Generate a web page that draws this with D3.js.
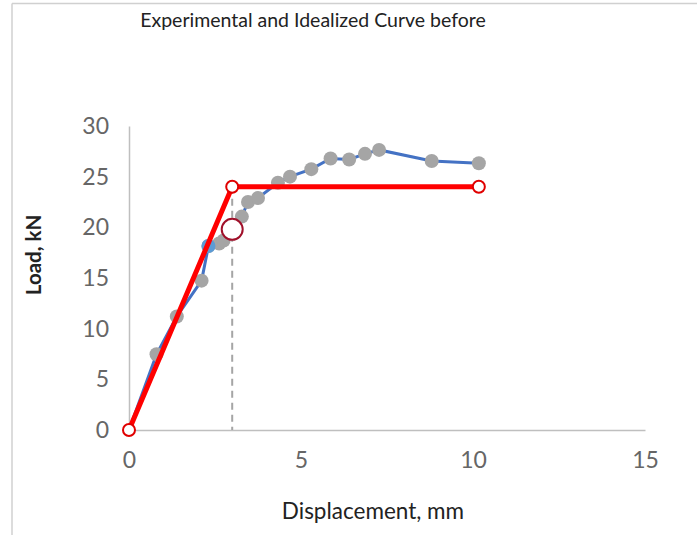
<!DOCTYPE html>
<html>
<head>
<meta charset="utf-8">
<script src="https://cdn.jsdelivr.net/npm/d3@7"></script>
<style>
  html, body { margin: 0; padding: 0; background: #fff; }
  svg { display: block; }
</style>
</head>
<body>
<svg id="chart" width="697" height="535"></svg>
<script>
// ---- data ----
const chartTitle = "Experimental and Idealized Curve before";
const xLabel = "Displacement, mm";
const yLabel = "Load, kN";
const xTicks = [0, 5, 10, 15];
const yTicks = [0, 5, 10, 15, 20, 25, 30];

// experimental curve (displacement mm, load kN)
const expX = [0, 0.80, 1.39, 2.11, 2.31, 2.62, 2.75, 3.28, 3.46, 3.75, 4.33, 4.68, 5.30, 5.86, 6.40, 6.86, 7.27, 8.80, 10.17];
const expY = [0, 7.47, 11.2, 14.74, 18.16, 18.40, 18.70, 21.06, 22.50, 22.90, 24.40, 25.00, 25.74, 26.80, 26.70, 27.25, 27.64, 26.55, 26.33];
// highlighted experimental point (index into expX / expY)
const highlightIndex = [4];

// idealized bilinear curve
const idealX = [0, 3, 10.17];
const idealY = [0, 24, 24];

// marked point on the dashed yield line
const markX = [3];
const markY = [19.8];

// ---- chart ----
const svg = d3.select("#chart");
const x = d3.scaleLinear().domain([0, 15]).range([129, 645]);
const y = d3.scaleLinear().domain([0, 30]).range([430, 126]);
const font = "Lato, 'Open Sans', sans-serif";

// outer frame (top and left visible)
svg.append("line").attr("x1", 12).attr("y1", 3.5).attr("x2", 697).attr("y2", 3.5)
  .attr("stroke", "#d0d0d0").attr("stroke-width", 1.5);
svg.append("line").attr("x1", 12).attr("y1", 3.5).attr("x2", 12).attr("y2", 535)
  .attr("stroke", "#d0d0d0").attr("stroke-width", 1.5);

// title
svg.append("text").attr("x", 313).attr("y", 27).attr("text-anchor", "middle")
  .attr("font-family", font).attr("font-size", 19.5).attr("fill", "#222")
  .text(chartTitle);

// axes
const xAxis = svg.append("g").attr("transform", `translate(0,${y(0)})`)
  .call(d3.axisBottom(x).tickValues(xTicks).tickSize(0).tickPadding(22).tickFormat(d3.format("d")));
const yAxis = svg.append("g").attr("transform", `translate(${x(0)},0)`)
  .call(d3.axisLeft(y).tickValues(yTicks).tickSize(0).tickPadding(20).tickFormat(d3.format("d")));
[xAxis, yAxis].forEach(g => {
  g.select(".domain").attr("stroke", "#bfbfbf").attr("stroke-width", 1.5);
  g.selectAll("text").attr("font-family", font).attr("font-size", 23).attr("fill", "#666");
});

// axis titles
svg.append("text").attr("x", 373).attr("y", 519).attr("text-anchor", "middle")
  .attr("font-family", font).attr("font-size", 22.5).attr("fill", "#222")
  .text(xLabel);
svg.append("text").attr("transform", `translate(41,255) rotate(-90)`).attr("text-anchor", "middle")
  .attr("font-family", font).attr("font-size", 20.5).attr("font-weight", "bold").attr("fill", "#222")
  .text(yLabel);

// dashed yield line
svg.append("line")
  .attr("x1", x(idealX[1])).attr("x2", x(idealX[1]))
  .attr("y1", y(idealY[1])).attr("y2", y(0))
  .attr("stroke", "#a5a5a5").attr("stroke-width", 2).attr("stroke-dasharray", "7,5");

// experimental line
const expData = expX.map((d, i) => [d, expY[i]]);
svg.append("path").datum(expData)
  .attr("d", d3.line().x(d => x(d[0])).y(d => y(d[1])))
  .attr("fill", "none").attr("stroke", "#4472C4").attr("stroke-width", 3);
svg.selectAll("circle.exp").data(expData.slice(1)).join("circle").attr("class", "exp")
  .attr("cx", d => x(d[0])).attr("cy", d => y(d[1])).attr("r", 7)
  .attr("fill", "#A5A5A5");
svg.selectAll("circle.hl").data(highlightIndex.map(i => expData[i])).join("circle").attr("class", "hl")
  .attr("cx", d => x(d[0])).attr("cy", d => y(d[1])).attr("r", 7)
  .attr("fill", "#5B9BD5");

// idealized line
const idealData = idealX.map((d, i) => [d, idealY[i]]);
svg.append("path").datum(idealData)
  .attr("d", d3.line().x(d => x(d[0])).y(d => y(d[1])))
  .attr("fill", "none").attr("stroke", "#FF0000").attr("stroke-width", 5);
svg.selectAll("circle.ideal").data(idealData).join("circle").attr("class", "ideal")
  .attr("cx", d => x(d[0])).attr("cy", d => y(d[1])).attr("r", 6)
  .attr("fill", "#fff").attr("stroke", "#E00000").attr("stroke-width", 2);

// marked point
svg.selectAll("circle.mark").data(markX.map((d, i) => [d, markY[i]])).join("circle").attr("class", "mark")
  .attr("cx", d => x(d[0])).attr("cy", d => y(d[1])).attr("r", 10.5)
  .attr("fill", "#fff").attr("stroke", "#A0102A").attr("stroke-width", 2);
</script>
</body>
</html>
